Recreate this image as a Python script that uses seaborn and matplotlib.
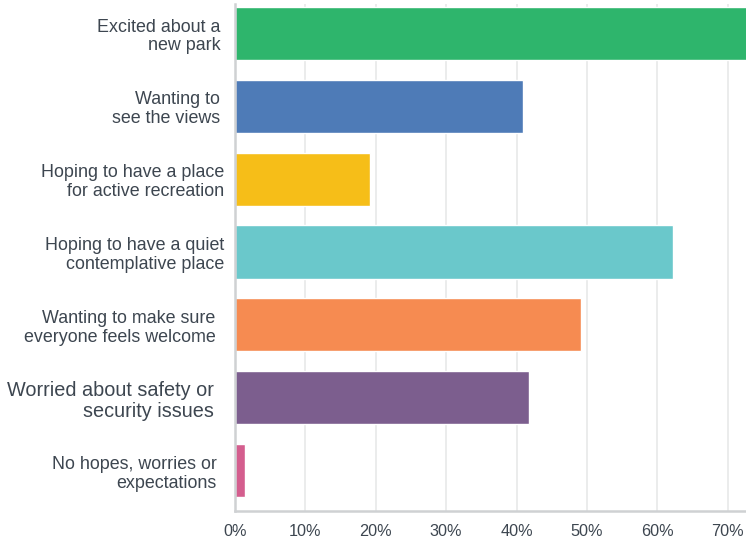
import matplotlib
matplotlib.use("Agg")
import matplotlib.pyplot as plt
import seaborn as sns
import pandas as pd
from matplotlib.ticker import FuncFormatter, MultipleLocator

# Survey responses: share of respondents choosing each option (%)
categories = [
    "Excited about a\nnew park",
    "Wanting to\nsee the views",
    "Hoping to have a place\nfor active recreation",
    "Hoping to have a quiet\ncontemplative place",
    "Wanting to make sure\neveryone feels welcome",
    "Worried about safety or\nsecurity issues",
    "No hopes, worries or\nexpectations",
]
percentages = [74.0, 40.9, 19.2, 62.2, 49.1, 41.7, 1.4]
bar_colors = ["#2eb56c", "#4e7bb7", "#f6be18", "#6ac8cb", "#f68b51", "#7c5e8e", "#d45e8e"]

df = pd.DataFrame({"option": categories, "pct": percentages})

sns.set_theme(style="white")
plt.rcParams["font.family"] = ["Liberation Sans", "DejaVu Sans"]

fig = plt.figure(figsize=(7.46, 5.39), dpi=100)
W, H = 746, 539
left, right, top, bottom = 235, 746, 4, 511
ax = fig.add_axes([left / W, 1 - bottom / H, (right - left) / W, (bottom - top) / H])

sns.barplot(data=df, y="option", x="pct", hue="option", palette=bar_colors,
            legend=False, width=0.73, saturation=1, ax=ax, zorder=3)

ax.set_xlim(0, 72.6)
ax.set_ylim(6.555, -0.405)
ax.xaxis.set_major_locator(MultipleLocator(10))
ax.xaxis.set_major_formatter(FuncFormatter(lambda v, _: f"{v:.0f}%"))
ax.grid(axis="x", color="#e9eaeb", linewidth=1.3, zorder=0)
ax.set_xlabel("")
ax.set_ylabel("")

for side in ("top", "right"):
    ax.spines[side].set_visible(False)
ax.spines["left"].set_color("#cfd1d3")
ax.spines["left"].set_linewidth(1.8)
ax.spines["bottom"].set_color("#cfd1d3")
ax.spines["bottom"].set_linewidth(1.8)
ax.spines["left"].set_zorder(4)

ax.tick_params(axis="x", length=0, pad=9, labelsize=11.7, labelcolor="#3d4650")
ax.tick_params(axis="y", length=0, labelsize=12.9, labelcolor="#3d4650")

label_pads = [10.5, 11, 8, 8, 14, 15, 13]
label_sizes = [12.9, 12.9, 12.9, 12.9, 12.9, 14.3, 12.9]
for tick, pad, size in zip(ax.yaxis.get_major_ticks(), label_pads, label_sizes):
    tick.set_pad(pad)
    tick.label1.set_fontsize(size)
    tick.label1.set_linespacing(1.15)

fig.savefig("out.png", dpi=100, facecolor="white")
